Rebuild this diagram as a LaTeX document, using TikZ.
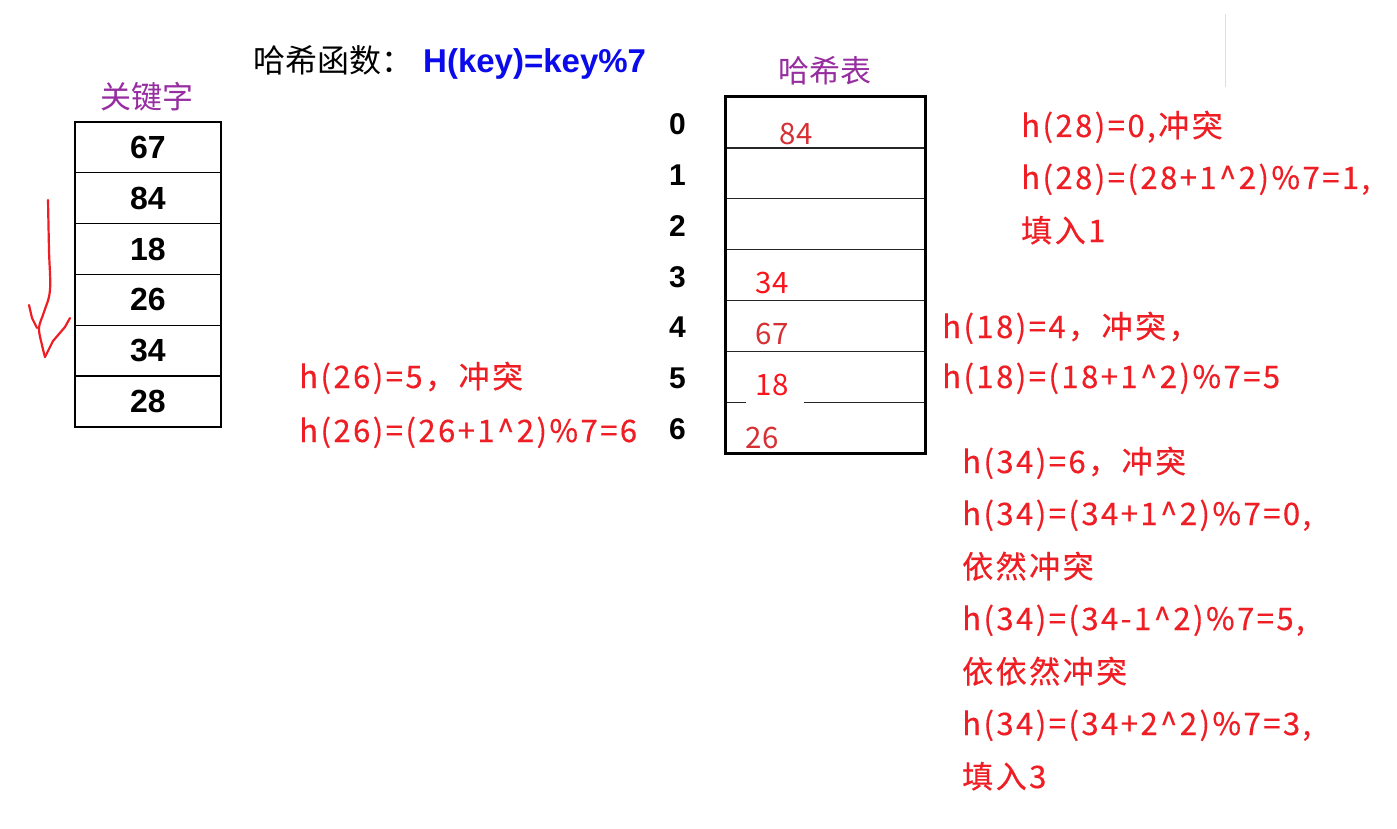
\documentclass[tikz,border=0pt]{standalone}
\usepackage{fontspec}
\setmainfont{Liberation Sans}
\newfontfamily\cjk{Noto Sans CJK SC}
\newfontfamily\cjkred{Noto Sans CJK SC}[LetterSpace=8,FakeBold=0.4]
\definecolor{myred}{RGB}{238,30,36}
\definecolor{valdark}{RGB}{214,48,52}
\definecolor{valbright}{RGB}{250,20,28}
\definecolor{mypurple}{RGB}{150,45,160}
\definecolor{myblue}{RGB}{10,10,235}
\tikzset{
  redtxt/.style={anchor=base west, inner sep=0pt, text=myred, font=\cjkred\fontsize{31}{36}\selectfont},
  keycell/.style={draw, line width=1.3pt, minimum width=146pt, minimum height=50.83pt, inner sep=0pt, font=\bfseries\fontsize{32}{36}\selectfont},
  hashcell/.style={minimum width=200pt, minimum height=50.86pt, inner sep=0pt},
  idx/.style={inner sep=0pt, font=\bfseries\fontsize{30}{34}\selectfont},
  val/.style={inner sep=0pt, font=\cjk\fontsize{29.5}{34}\selectfont},
  purp/.style={inner sep=0pt, text=mypurple, font=\cjk\fontsize{31}{36}\selectfont},
  thinrow/.style={line width=1.1pt, black!85},
  redpen/.style={draw=myred, line width=2.2pt, line cap=round, line join=round},
}
\begin{document}
\begin{tikzpicture}[x=1pt,y=-1pt]
\useasboundingbox[fill=white] (0,0) rectangle (1397,829);

% faint line top right
\draw[line width=1pt, black!13] (1225,14) -- (1225,87);

% title
\node[anchor=base west, inner sep=0pt, font=\cjk\fontsize{32}{38}\selectfont] (t1) at (253,73) {哈希函数：};
\node[anchor=base west, inner sep=0pt, text=myblue, font=\bfseries\fontsize{33}{38}\selectfont] (t2) at (423,73) {H(key)=key\%7};

% keys
\node[purp] (klabel) at (147,97) {关键字};
\foreach \v [count=\i from 0] in {67,84,18,26,34,28}{
  \node[keycell] (k\i) at (148,147.4+50.83*\i) {\v};
}

% red arrow
\draw[redpen] plot[smooth, tension=0.6] coordinates {(48,200) (49,250) (50,290) (44,312) (39,328) (42,345) (45,357)};
\draw[redpen] (45,357) -- (53,341) -- (65,327) -- (70,318);
\draw[redpen] (29,305) -- (32,318) -- (37,328);

% hash table
\node[purp] (hlabel) at (825,71) {哈希表};
\foreach \i in {0,...,6}{
  \node[hashcell] (h\i) at (825.5,122.4+50.86*\i) {};
  \node[idx] (n\i) at (677.5,124+50.9*\i) {\i};
}
\foreach \i in {0,...,4}{
  \draw[thinrow] (h\i.south west) -- (h\i.south east);
}
\draw[thinrow] (h5.south west) -- ([xshift=21pt]h5.south west);
\draw[thinrow] ([xshift=79pt]h5.south west) -- (h5.south east);
\draw[line width=3pt] (h0.north west) rectangle (h6.south east);

\node[val, text=valdark]   (v84) at (796,134) {84};
\node[val, text=valbright] (v34) at (772,283) {34};
\node[val, text=valdark]   (v67) at (772,334) {67};
\node[val, text=valbright] (v18) at (772,385) {18};
\node[val, text=valdark]   (v26) at (762,438) {26};

% explanations
\node[redtxt] (a1) at (1021,137) {h(28)=0,冲突};
\node[redtxt] (a2) at (1021,189) {h(28)=(28+1\^{}2)\%7=1,};
\node[redtxt] (a3) at (1021,242) {填入1};

\node[redtxt] (b1) at (942,338) {h(18)=4，冲突，};
\node[redtxt] (b2) at (942,388) {h(18)=(18+1\^{}2)\%7=5};

\node[redtxt] (c1) at (299,388) {h(26)=5，冲突};
\node[redtxt] (c2) at (299,442) {h(26)=(26+1\^{}2)\%7=6};

\node[redtxt] (d1) at (962,473) {h(34)=6，冲突};
\node[redtxt] (d2) at (962,525) {h(34)=(34+1\^{}2)\%7=0,};
\node[redtxt] (d3) at (962,578) {依然冲突};
\node[redtxt] (d4) at (962,630) {h(34)=(34-1\^{}2)\%7=5,};
\node[redtxt] (d5) at (962,683) {依依然冲突};
\node[redtxt] (d6) at (962,735) {h(34)=(34+2\^{}2)\%7=3,};
\node[redtxt] (d7) at (962,788) {填入3};
\end{tikzpicture}
\end{document}
